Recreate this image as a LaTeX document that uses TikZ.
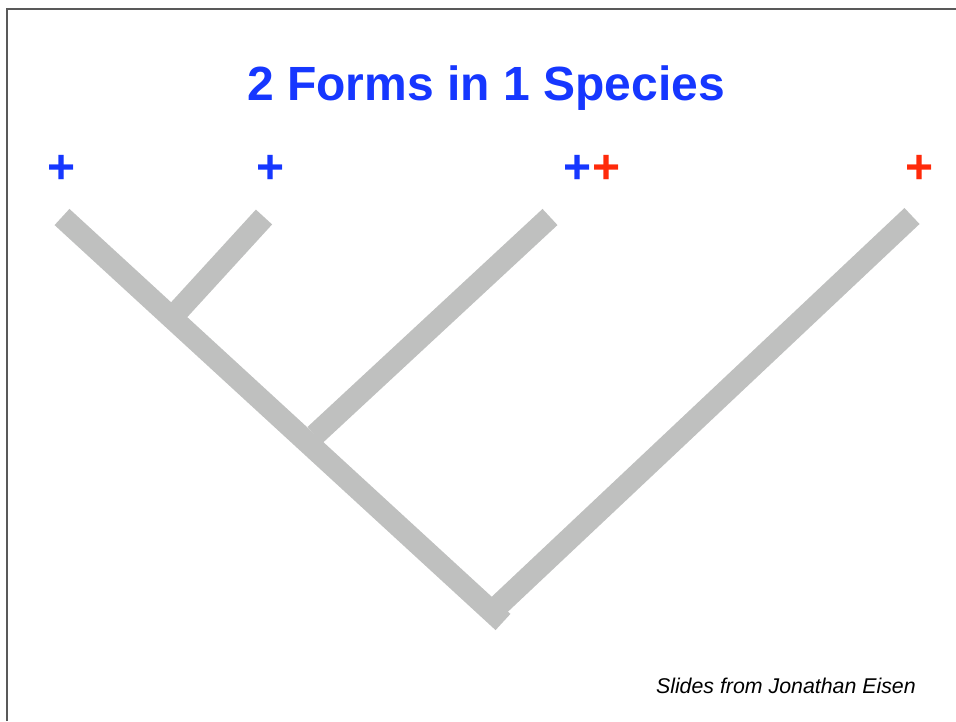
\documentclass[tikz,border=0pt]{standalone}
\usepackage{fontspec}
\setmainfont{Liberation Sans}
\definecolor{treegray}{RGB}{191,192,191}
\definecolor{formblue}{RGB}{22,55,255}
\definecolor{formred}{RGB}{255,42,10}
\tikzset{
  branch/.style={treegray, line width=16.5pt},
  plussign/.style={inner sep=0pt, font=\fontsize{36}{40}\selectfont\bfseries},
}

\begin{document}
\begin{tikzpicture}[x=0.75pt,y=-0.75pt]
 \useasboundingbox (0,0) rectangle (956,721);
 \draw[black!65, line width=1.1pt] (7,721) -- (7,9) -- (956,9);
 % tips and joins of the tree
 \coordinate (leafA) at (62,217);
 \coordinate (leafB) at (264,217);
 \coordinate (leafC) at (550,217);
 \coordinate (leafD) at (912,216);
 \coordinate (joinB) at (178,311);
 \coordinate (joinC) at (315,435);
 \coordinate (joinD) at (499,605);
 \coordinate (root) at (503,622);
 \draw[branch] (leafA) -- (root);
 \draw[branch] (leafB) -- (joinB);
 \draw[branch] (leafC) -- (joinC);
 \draw[branch] (leafD) -- (joinD);
 % labels
 \node[plussign, text=formblue] (plusA) at (62,169) {+};
 \node[plussign, text=formblue] (plusB) at (271,169) {+};
 \node[plussign] (plusC) at (592,169) {\textcolor{formblue}{+}\textcolor{formred}{+}};
 \node[plussign, text=formred] (plusD) at (920,169) {+};
 \node[anchor=base, inner sep=0pt, text=formblue, font=\fontsize{36}{40}\selectfont\bfseries] (title) at (486,100) {2 Forms in 1 Species};
 \node[anchor=base east, inner sep=0pt, font=\fontsize{16}{18}\selectfont\itshape] (credit) at (916,693) {Slides from Jonathan Eisen};
\end{tikzpicture}
\end{document}
